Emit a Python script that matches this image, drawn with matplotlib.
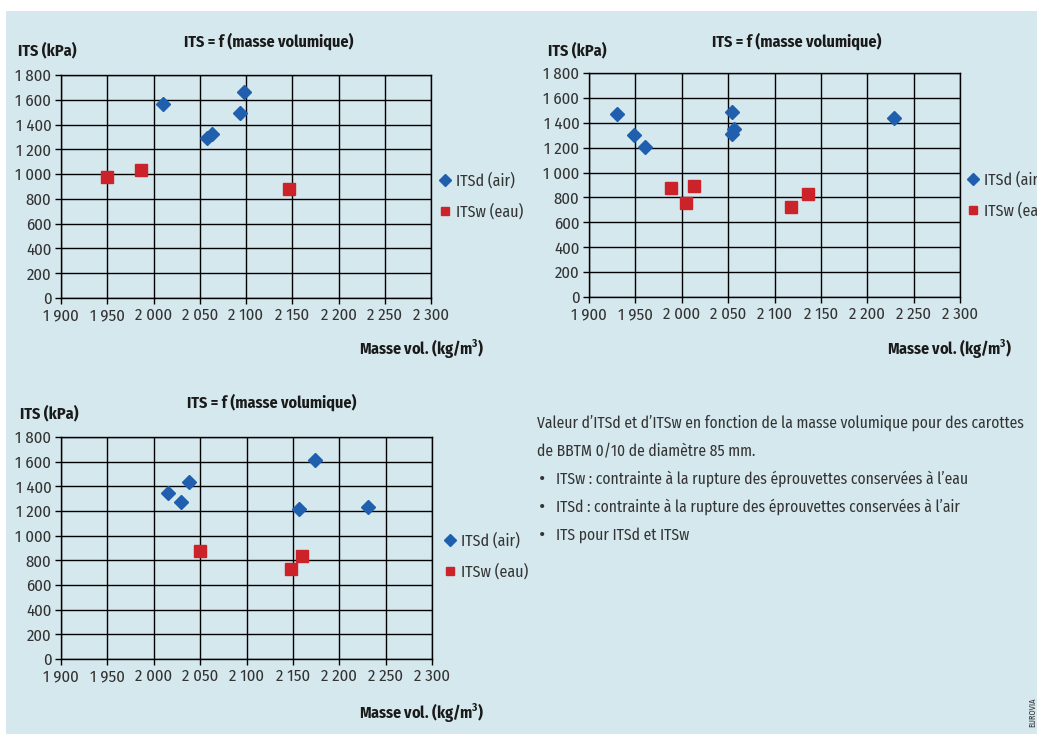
import numpy as np
import matplotlib
matplotlib.use('Agg')
import matplotlib.pyplot as plt
from matplotlib.patches import Rectangle

plt.rcParams['font.family'] = ['Fira Sans Condensed', 'Roboto Condensed', 'DejaVu Sans']

# ----------------------------------------------------------------------
# --- data

# top left
itsd_x_1 = [2010.6, 2057.5, 2063, 2093, 2098]
itsd_y_1 = [1566, 1292, 1324, 1494, 1666]
itsw_x_1 = [1950, 1987, 2146]
itsw_y_1 = [973, 1032, 876]

# top right
itsd_x_2 = [1930, 1948.6, 1960.4, 2054, 2054, 2056.8, 2229]
itsd_y_2 = [1468, 1302, 1208, 1487, 1310, 1350, 1441]
itsw_x_2 = [1988.8, 2004.3, 2013.3, 2117.3, 2135.6]
itsw_y_2 = [879, 755, 895, 723, 828]

# bottom left
itsd_x_3 = [2015, 2029, 2038, 2157, 2173.6, 2230.5]
itsd_y_3 = [1342, 1269, 1436, 1218, 1611, 1234]
itsw_x_3 = [2050, 2148.4, 2160]
itsw_y_3 = [878, 727, 833]

x_ticks = [1900, 1950, 2000, 2050, 2100, 2150, 2200, 2250, 2300]
y_ticks = [0, 200, 400, 600, 800, 1000, 1200, 1400, 1600, 1800]

title = 'ITS = f (masse volumique)'
ylabel = 'ITS (kPa)'
xlabel = 'Masse vol. (kg/m$^{\\mathregular{3}}$)'
labels = ['ITSd (air)', 'ITSw (eau)']

note = ['Valeur d\u2019ITSd et d\u2019ITSw en fonction de la masse volumique pour des carottes',
        'de BBTM 0/10 de diam\u00e8tre 85 mm.']
bullets = ['ITSw : contrainte \u00e0 la rupture des \u00e9prouvettes conserv\u00e9es \u00e0 l\u2019eau',
           'ITSd : contrainte \u00e0 la rupture des \u00e9prouvettes conserv\u00e9es \u00e0 l\u2019air',
           'ITS pour ITSd et ITSw']

bg = '#d5e8ee'
blue = '#1f5fad'
red = '#cc2229'
grey = '#333333'
W, H = 1037, 734


def fmt(v):
    return f'{v:,}'.replace(',', ' ')


def panel(rect, xd, yd, xw, yw, leg_xy, title_xy, ylab_xy, xlab_xy):
    ax = fig.add_axes(rect)
    ax.set_facecolor('none')
    ax.plot(xd, yd, 'D', ms=7.5, color=blue, mec=blue, label=labels[0], zorder=3)
    ax.plot(xw, yw, 's', ms=8.5, color=red, mec=red, label=labels[1], zorder=3)
    ax.set_xlim(1900, 2300)
    ax.set_ylim(0, 1800)
    ax.set_xticks(x_ticks)
    ax.set_yticks(y_ticks)
    ax.set_xticklabels([fmt(v) for v in x_ticks], fontsize=12, color=grey)
    ax.set_yticklabels([fmt(v) for v in y_ticks], fontsize=12, color=grey)
    ax.grid(True, color='black', lw=1.0)
    ax.set_axisbelow(True)
    for s in ax.spines.values():
        s.set_color('black')
        s.set_linewidth(1.0)
    ax.tick_params(direction='out', length=4, width=1, pad=3)
    ax.legend(loc='center left', bbox_to_anchor=(leg_xy[0] / W, 1 - leg_xy[1] / H),
              bbox_transform=fig.transFigure, frameon=False,
              prop={'size': 11.5}, markerscale=0.75,
              handlelength=0.8, handletextpad=0.3, labelspacing=0.9,
              labelcolor=grey, borderaxespad=0)
    fig.text(title_xy[0] / W, 1 - title_xy[1] / H, title, ha='center', va='center',
             fontsize=11.5, fontweight='bold', color='#1a1a1a')
    fig.text(ylab_xy[0] / W, 1 - ylab_xy[1] / H, ylabel, ha='left', va='center',
             fontsize=11.5, fontweight='bold', color='#1a1a1a')
    fig.text(xlab_xy[0] / W, 1 - xlab_xy[1] / H, xlabel, ha='right', va='center',
             fontsize=11.5, fontweight='bold', color='#1a1a1a')
    return ax


# ----------------------------------------------------------------------
# --- figure

fig = plt.figure(figsize=(W / 100, H / 100), dpi=100, facecolor='white')
fig.patches.append(Rectangle((6 / W, 0), 1 - 6 / W, 1 - 11 / H, transform=fig.transFigure,
                             facecolor=bg, edgecolor='none', zorder=-10))

panel([61 / W, 1 - 298 / H, 370 / W, 223 / H], itsd_x_1, itsd_y_1, itsw_x_1, itsw_y_1,
      (432, 196), (269, 41), (18, 50), (484, 349))
panel([589 / W, 1 - 297 / H, 371 / W, 224 / H], itsd_x_2, itsd_y_2, itsw_x_2, itsw_y_2,
      (960, 195), (797, 41), (548, 50), (1012, 349))
panel([61 / W, 1 - 659 / H, 371 / W, 222 / H], itsd_x_3, itsd_y_3, itsw_x_3, itsw_y_3,
      (437, 556), (272, 402), (20, 413), (484, 712))

# text block
for i, line in enumerate(note):
    fig.text(537 / W, 1 - (423 + 29 * i) / H, line, ha='left', va='center',
             fontsize=11.2, color=grey)
for i, line in enumerate(bullets):
    y = 1 - (479 + 28 * i) / H
    fig.text(539 / W, y, '\u2022', ha='left', va='center', fontsize=15, color=grey)
    fig.text(556 / W, y, line, ha='left', va='center', fontsize=11.2, color=grey)

fig.text(1033 / W, 1 - 712 / H, 'EUROVIA', rotation=90, ha='center', va='center',
         fontsize=6, color=grey)

fig.savefig('out.png', dpi=100, facecolor='white')
